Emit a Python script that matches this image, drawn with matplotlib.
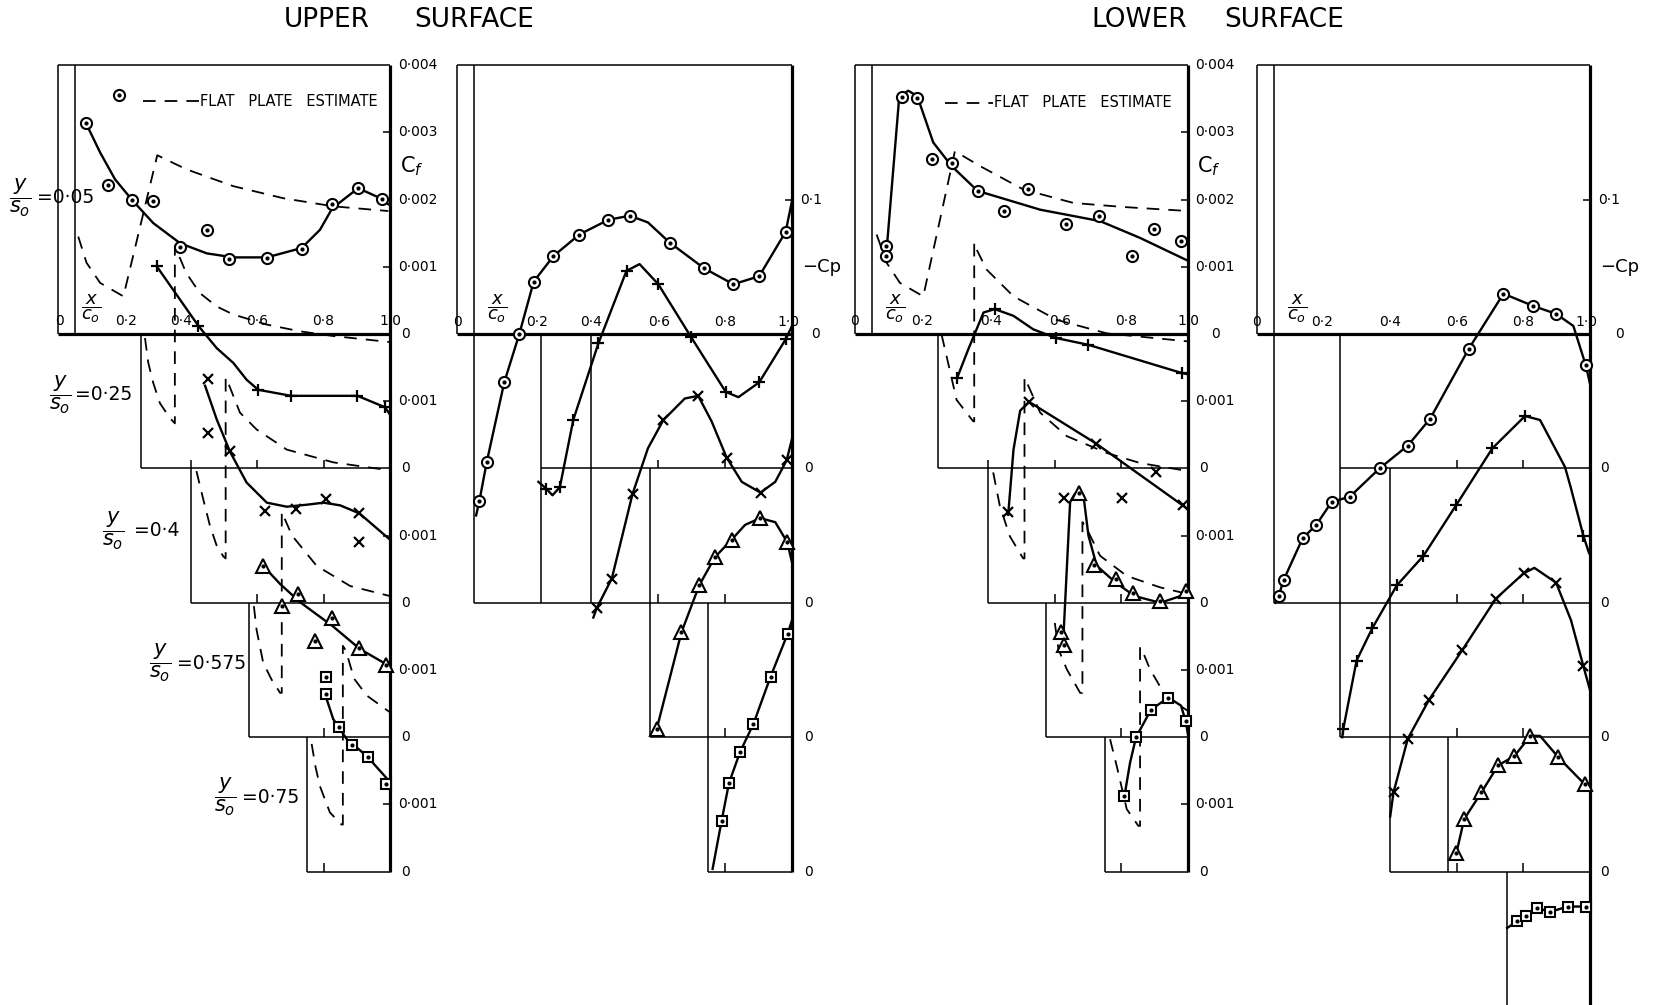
"""
Cf and -Cp distributions on the upper and lower surface of a swept wing,
five spanwise stations y/s0, each box dropped one step below the last.
Values read off the original figure.
"""
import numpy as np
import matplotlib
matplotlib.use("Agg")
import matplotlib.pyplot as plt

W, H = 1665, 1005
plt.rcParams["font.family"] = ["DejaVu Sans"]
plt.rcParams["mathtext.fontset"] = "dejavusans"

STATIONS = [0.05, 0.25, 0.4, 0.575, 0.75]
STN_TXT = ["0·05", "0·25", "0·4", "0·575", "0·75"]
KINDS = ["o", "+", "x", "^", "s"]
CF_SHIFT = 2.0    # Cf in units of 0.001, each station 0.002 lower
CP_SHIFT = 0.1    # -Cp, each station 0.1 lower

# ---------------- upper surface, Cf*1000 (x/c0, Cf) ----------------
ucf1_pts = ([0.084, 0.150, 0.184, 0.224, 0.285, 0.368, 0.448, 0.514, 0.629, 0.734, 0.826, 0.904, 0.976],
            [3.14, 2.21, 3.55, 1.99, 1.98, 1.29, 1.55, 1.12, 1.13, 1.27, 1.93, 2.17, 2.01])
ucf1_crv = ([0.084, 0.127, 0.172, 0.224, 0.287, 0.368, 0.448, 0.528, 0.629, 0.734, 0.789, 0.826, 0.904, 0.976, 0.995],
            [3.14, 2.70, 2.30, 1.99, 1.65, 1.35, 1.20, 1.14, 1.14, 1.28, 1.55, 1.87, 2.17, 2.01, 1.93])
ucf1_fp = ([0.061, 0.086, 0.127, 0.197, 0.299, 0.387, 0.528, 0.679, 0.829, 0.995],
           [1.45, 1.06, 0.76, 0.56, 2.66, 2.45, 2.20, 2.02, 1.90, 1.83])

ucf2_pts = ([0.297, 0.423, 0.603, 0.702, 0.902, 0.985],
            [3.01, 2.12, 1.17, 1.08, 1.08, 0.91])
ucf2_crv = ([0.297, 0.423, 0.478, 0.528, 0.568, 0.603, 0.702, 0.800, 0.902, 0.985, 1.0],
            [3.01, 2.12, 1.79, 1.57, 1.32, 1.17, 1.08, 1.08, 1.08, 0.91, 0.80])
ucf2_fp = ([0.262, 0.272, 0.287, 0.307, 0.337, 0.352, 0.352, 0.386, 0.427, 0.478, 0.528, 0.629, 0.729, 0.829, 1.0],
           [1.94, 1.57, 1.27, 0.97, 0.75, 0.67, 3.31, 2.91, 2.61, 2.41, 2.29, 2.14, 2.04, 1.97, 1.88])

ucf3_pts = ([0.453, 0.453, 0.518, 0.625, 0.717, 0.807, 0.908, 0.908],
            [3.33, 2.53, 2.26, 1.36, 1.40, 1.55, 1.33, 0.90])
ucf3_crv = ([0.443, 0.478, 0.518, 0.568, 0.629, 0.689, 0.750, 0.800, 0.850, 0.908, 1.0],
            [3.23, 2.73, 2.25, 1.79, 1.49, 1.43, 1.46, 1.49, 1.45, 1.33, 0.94])
ucf3_fp = ([0.417, 0.437, 0.458, 0.478, 0.498, 0.505, 0.505, 0.508, 0.548, 0.598, 0.689, 0.829, 1.0],
           [1.96, 1.55, 1.14, 0.85, 0.69, 0.66, 3.35, 3.33, 2.83, 2.58, 2.28, 2.09, 1.97])

ucf4_pts = ([0.618, 0.675, 0.722, 0.774, 0.824, 0.907, 0.987],
            [2.55, 1.95, 2.13, 1.43, 1.78, 1.33, 1.08])
ucf4_crv = ([0.618, 0.669, 0.729, 0.828, 0.910, 0.991, 1.0],
            [2.55, 2.28, 2.01, 1.65, 1.31, 1.08, 1.05])
ucf4_fp = ([0.590, 0.598, 0.618, 0.643, 0.669, 0.674, 0.674, 0.705, 0.779, 0.880, 1.0],
           [1.95, 1.60, 1.11, 0.86, 0.66, 0.66, 3.35, 3.00, 2.55, 2.25, 2.10])

ucf5_pts = ([0.807, 0.807, 0.845, 0.885, 0.933, 0.988],
            [2.90, 2.64, 2.15, 1.89, 1.71, 1.31])
ucf5_crv = ([0.807, 0.829, 0.870, 0.930, 0.988, 1.0],
            [2.60, 2.27, 1.97, 1.72, 1.40, 1.33])
ucf5_fp = ([0.764, 0.776, 0.789, 0.819, 0.854, 0.858, 0.858, 0.867, 0.892, 0.930, 1.0],
           [1.90, 1.55, 1.27, 0.88, 0.70, 0.70, 3.36, 3.29, 2.87, 2.62, 2.37])

# ---------------- upper surface, -Cp ----------------
ucp1_pts = ([0.067, 0.089, 0.141, 0.186, 0.229, 0.288, 0.365, 0.452, 0.516, 0.635, 0.737, 0.825, 0.902, 0.981],
            [-0.124, -0.095, -0.036, 0.0, 0.039, 0.058, 0.074, 0.085, 0.088, 0.068, 0.049, 0.037, 0.043, 0.076])
ucp1_crv = ([0.057, 0.067, 0.089, 0.141, 0.186, 0.229, 0.288, 0.365, 0.452, 0.516, 0.570, 0.635, 0.737, 0.825, 0.902, 0.981, 1.0],
            [-0.135, -0.124, -0.095, -0.036, 0.0, 0.039, 0.058, 0.074, 0.085, 0.088, 0.083, 0.068, 0.049, 0.037, 0.043, 0.076, 0.099])

ucp2_pts = ([0.266, 0.307, 0.347, 0.422, 0.506, 0.601, 0.698, 0.802, 0.902, 0.981],
            [-0.015, -0.014, 0.036, 0.093, 0.147, 0.137, 0.098, 0.057, 0.064, 0.096])
ucp2_crv = ([0.243, 0.266, 0.285, 0.307, 0.347, 0.422, 0.506, 0.545, 0.601, 0.698, 0.802, 0.840, 0.902, 0.981, 1.0],
            [-0.010, -0.015, -0.020, -0.014, 0.036, 0.093, 0.147, 0.152, 0.137, 0.098, 0.057, 0.053, 0.064, 0.096, 0.106])

ucp3_pts = ([0.417, 0.462, 0.524, 0.616, 0.720, 0.805, 0.906, 0.984],
            [-0.004, 0.018, 0.081, 0.136, 0.154, 0.108, 0.082, 0.106])
ucp3_crv = ([0.407, 0.417, 0.462, 0.524, 0.570, 0.616, 0.680, 0.720, 0.760, 0.805, 0.850, 0.906, 0.950, 0.984, 1.0],
            [-0.011, -0.004, 0.018, 0.081, 0.115, 0.136, 0.152, 0.154, 0.135, 0.108, 0.090, 0.082, 0.090, 0.106, 0.122])

ucp4_pts = ([0.596, 0.670, 0.723, 0.770, 0.820, 0.905, 0.986],
            [0.006, 0.078, 0.113, 0.134, 0.147, 0.163, 0.145])
ucp4_crv = ([0.585, 0.596, 0.670, 0.723, 0.770, 0.820, 0.860, 0.905, 0.950, 0.986, 1.0],
            [0.002, 0.006, 0.078, 0.113, 0.134, 0.147, 0.158, 0.163, 0.160, 0.145, 0.130])

ucp5_pts = ([0.790, 0.812, 0.845, 0.885, 0.936, 0.987],
            [0.038, 0.066, 0.089, 0.110, 0.145, 0.177])
ucp5_crv = ([0.763, 0.790, 0.812, 0.845, 0.885, 0.936, 0.987, 1.0],
            [0.002, 0.038, 0.066, 0.089, 0.110, 0.145, 0.177, 0.187])

# ---------------- lower surface, Cf*1000 ----------------
lcf1_pts = ([0.093, 0.093, 0.140, 0.185, 0.230, 0.290, 0.368, 0.446, 0.521, 0.634, 0.734, 0.831, 0.899, 0.980],
            [1.31, 1.16, 3.53, 3.51, 2.61, 2.55, 2.13, 1.83, 2.16, 1.64, 1.75, 1.16, 1.56, 1.39])
lcf1_crv = ([0.095, 0.133, 0.160, 0.187, 0.235, 0.290, 0.368, 0.556, 0.736, 0.856, 1.0],
            [1.25, 3.54, 3.62, 3.54, 2.85, 2.50, 2.13, 1.85, 1.68, 1.43, 1.09])
lcf1_fp = ([0.065, 0.095, 0.135, 0.205, 0.300, 0.375, 0.506, 0.656, 0.806, 1.0],
           [1.48, 1.06, 0.76, 0.56, 2.72, 2.50, 2.15, 1.95, 1.89, 1.83])

lcf2_pts = ([0.307, 0.420, 0.604, 0.700, 0.981],
            [1.35, 2.37, 1.94, 1.84, 1.42])
lcf2_crv = ([0.307, 0.340, 0.386, 0.420, 0.476, 0.535, 0.604, 0.700, 0.981, 1.0],
            [1.35, 1.77, 2.32, 2.37, 2.27, 2.07, 1.94, 1.84, 1.42, 1.40])
lcf2_fp = ([0.260, 0.275, 0.305, 0.355, 0.358, 0.358, 0.360, 0.395, 0.476, 0.606, 0.756, 1.0],
           [1.99, 1.67, 1.02, 0.70, 0.70, 3.36, 3.31, 2.96, 2.56, 2.21, 2.01, 1.89])

lcf3_pts = ([0.460, 0.523, 0.628, 0.724, 0.802, 0.904, 0.984],
            [1.35, 2.99, 1.56, 2.37, 1.56, 1.94, 1.45])
lcf3_crv = ([0.460, 0.476, 0.496, 0.523, 0.724, 0.984, 1.0],
            [1.31, 2.28, 2.86, 2.99, 2.37, 1.45, 1.39])
lcf3_fp = ([0.415, 0.435, 0.465, 0.505, 0.509, 0.509, 0.516, 0.556, 0.636, 0.756, 0.856, 1.0],
           [1.94, 1.44, 0.99, 0.66, 0.66, 3.35, 3.28, 2.83, 2.48, 2.23, 2.08, 1.96])

lcf4_pts = ([0.618, 0.627, 0.673, 0.719, 0.783, 0.834, 0.917, 0.995],
            [1.56, 1.37, 3.64, 2.56, 2.35, 2.14, 2.02, 2.18])
lcf4_crv = ([0.625, 0.646, 0.660, 0.673, 0.686, 0.701, 0.726, 0.783, 0.840, 0.917, 0.995],
            [1.40, 3.50, 3.62, 3.65, 3.60, 3.00, 2.55, 2.30, 2.10, 2.00, 2.13])
lcf4_fp = ([0.600, 0.611, 0.636, 0.676, 0.683, 0.683, 0.696, 0.736, 0.816, 0.916, 1.0],
           [1.70, 1.31, 1.01, 0.66, 0.66, 3.20, 3.10, 2.70, 2.40, 2.23, 2.13])

lcf5_pts = ([0.809, 0.844, 0.889, 0.941, 0.993],
            [1.12, 2.00, 2.41, 2.59, 2.24])
lcf5_crv = ([0.809, 0.826, 0.844, 0.889, 0.941, 0.979, 0.993, 1.0],
            [1.12, 1.62, 2.00, 2.41, 2.59, 2.47, 2.24, 2.04])
lcf5_fp = ([0.766, 0.786, 0.816, 0.851, 0.856, 0.856, 0.861, 0.886, 0.926, 0.976, 1.0],
           [1.97, 1.57, 0.93, 0.68, 0.68, 3.34, 3.31, 3.01, 2.67, 2.47, 2.39])

# ---------------- lower surface, -Cp ----------------
lcp1_pts = ([0.065, 0.080, 0.137, 0.178, 0.224, 0.279, 0.368, 0.453, 0.520, 0.636, 0.740, 0.828, 0.898, 0.987],
            [-0.195, -0.183, -0.152, -0.142, -0.125, -0.121, -0.100, -0.083, -0.063, -0.011, 0.030, 0.021, 0.015, -0.023])
lcp1_crv = ([0.055, 0.065, 0.080, 0.137, 0.178, 0.224, 0.279, 0.368, 0.453, 0.520, 0.636, 0.740, 0.828, 0.898, 0.950, 0.987, 1.0],
            [-0.200, -0.195, -0.183, -0.152, -0.142, -0.125, -0.121, -0.100, -0.083, -0.063, -0.011, 0.030, 0.021, 0.015, 0.006, -0.023, -0.037])

lcp2_pts = ([0.259, 0.299, 0.346, 0.420, 0.500, 0.599, 0.707, 0.805, 0.980],
            [-0.194, -0.143, -0.119, -0.087, -0.065, -0.027, 0.015, 0.039, -0.050])
lcp2_crv = ([0.256, 0.259, 0.299, 0.346, 0.420, 0.500, 0.599, 0.707, 0.805, 0.850, 0.925, 0.942, 0.980, 0.997],
            [-0.200, -0.194, -0.143, -0.119, -0.087, -0.065, -0.027, 0.015, 0.039, 0.036, 0.001, -0.014, -0.050, -0.063])

lcp3_pts = ([0.410, 0.453, 0.517, 0.617, 0.717, 0.801, 0.898, 0.980],
            [-0.141, -0.101, -0.072, -0.035, 0.003, 0.022, 0.015, -0.047])
lcp3_crv = ([0.400, 0.410, 0.453, 0.517, 0.617, 0.717, 0.801, 0.833, 0.898, 0.943, 0.980, 1.0],
            [-0.159, -0.141, -0.101, -0.072, -0.035, 0.003, 0.022, 0.026, 0.015, -0.013, -0.047, -0.065])

lcp4_pts = ([0.599, 0.622, 0.674, 0.724, 0.773, 0.821, 0.905, 0.984],
            [-0.086, -0.061, -0.041, -0.021, -0.014, 0.001, -0.015, -0.035])
lcp4_crv = ([0.599, 0.622, 0.674, 0.724, 0.773, 0.821, 0.850, 0.905, 0.984, 1.0],
            [-0.086, -0.061, -0.041, -0.021, -0.014, 0.001, 0.001, -0.015, -0.035, -0.040])

lcp5_pts = ([0.781, 0.808, 0.841, 0.880, 0.933, 0.987],
            [-0.037, -0.033, -0.027, -0.030, -0.026, -0.026])
lcp5_crv = ([0.751, 0.781, 0.808, 0.841, 0.880, 0.933, 0.987, 1.0],
            [-0.042, -0.037, -0.033, -0.027, -0.030, -0.026, -0.026, -0.025])

UCF = [(ucf1_pts, ucf1_crv, ucf1_fp), (ucf2_pts, ucf2_crv, ucf2_fp), (ucf3_pts, ucf3_crv, ucf3_fp),
       (ucf4_pts, ucf4_crv, ucf4_fp), (ucf5_pts, ucf5_crv, ucf5_fp)]
LCF = [(lcf1_pts, lcf1_crv, lcf1_fp), (lcf2_pts, lcf2_crv, lcf2_fp), (lcf3_pts, lcf3_crv, lcf3_fp),
       (lcf4_pts, lcf4_crv, lcf4_fp), (lcf5_pts, lcf5_crv, lcf5_fp)]
UCP = [(ucp1_pts, ucp1_crv, None), (ucp2_pts, ucp2_crv, None), (ucp3_pts, ucp3_crv, None),
       (ucp4_pts, ucp4_crv, None), (ucp5_pts, ucp5_crv, None)]
LCP = [(lcp1_pts, lcp1_crv, None), (lcp2_pts, lcp2_crv, None), (lcp3_pts, lcp3_crv, None),
       (lcp4_pts, lcp4_crv, None), (lcp5_pts, lcp5_crv, None)]

XT_TXT = ["0", "0·2", "0·4", "0·6", "0·8", "1·0"]

fig = plt.figure(figsize=(W / 100, H / 100), dpi=100)
fig.patch.set_facecolor("white")

THIN = dict(color="k", lw=1.1, zorder=1, solid_capstyle="butt")
THICK = dict(color="k", lw=2.3, zorder=1, solid_capstyle="butt")
TXT = dict(fontsize=10, color="k", zorder=6)
YS = r"$\dfrac{y}{s_o}$"


def panel(x0, sx, z0, sy, left, right, top=0, bottom=H):
    # axes whose data coords land on the pixel grid of the scan
    ax = fig.add_axes([left / W, 1 - bottom / H, (right - left) / W, (bottom - top) / H])
    ax.set_xlim((left - x0) / sx, (right - x0) / sx)
    ax.set_ylim((z0 - bottom) / sy, (z0 - top) / sy)
    ax.axis("off")
    return ax


def station(ax, i, shift, pts, crv, fp, kind):
    off = -i * shift
    if fp is not None:
        ax.plot(fp[0], np.add(fp[1], off), color="k", lw=1.3, dashes=(7, 5), zorder=2)
    ax.plot(crv[0], np.add(crv[1], off), color="k", lw=1.7, zorder=3, solid_joinstyle="round")
    y = np.add(pts[1], off)
    if kind in ("o", "^", "s"):
        ms = {"o": 8, "^": 9.5, "s": 7}[kind]
        ax.plot(pts[0], y, ls="none", marker=kind, ms=ms, mfc="white", mec="k", mew=1.5, zorder=4)
        ax.plot(pts[0], y, ls="none", marker="o", ms=2, color="k", zorder=5)
    else:
        ax.plot(pts[0], y, ls="none", marker=kind, ms=8 if kind == "+" else 6.5,
                color="k", mew=1.6, zorder=4)


def top_box_labels(ax, xs, dy_num, dy_frac, xfrac):
    for x, t in zip(xs, XT_TXT):
        ax.text(x, dy_num, t, ha="center", va="center", **TXT)
    ax.text(xfrac, dy_frac, r"$\dfrac{x}{c_o}$", ha="center", va="center", fontsize=13, zorder=6)


def cf_frame(ax):
    ax.plot([0, 0], [0, 4], **THIN)
    ax.plot([0.05, 0.05], [0, 4], **THIN)
    ax.plot([0, 1], [4, 4], **THIN)
    ax.plot([0, 1], [0, 0], **THICK)
    ax.plot([1, 1], [4, -4 * CF_SHIFT], **THICK)
    for yt in (1, 2, 3):
        ax.plot([0.978, 1], [yt, yt], **THIN)
    for i, le in enumerate(STATIONS[1:], start=1):
        z = -i * CF_SHIFT
        ax.plot([le, le], [z + CF_SHIFT, z], **THIN)
        ax.plot([le, 1], [z, z], **THIN)
        ax.plot([0.978, 1], [z + 1, z + 1], **THIN)
        for xt in (0.4, 0.6, 0.8):
            if xt > le + 0.03:
                ax.plot([xt, xt], [z, z + 0.13], **THIN)


def cf_right_labels(ax, xnum, xzero_top, xzero):
    for yt, t in ((4, "0·004"), (3, "0·003"), (2, "0·002"), (1, "0·001")):
        ax.text(xnum, yt, t, ha="left", va="center", **TXT)
    ax.text(xnum + 0.005, 2.5, "C$_f$", ha="left", va="center", fontsize=15, zorder=6)
    ax.text(xzero_top, 0, "0", ha="center", va="center", **TXT)
    for i in range(1, 5):
        z = -i * CF_SHIFT
        ax.text(xzero, z, "0", ha="center", va="center", **TXT)
        ax.text(xnum, z + 1, "0·001", ha="left", va="center", **TXT)


def cp_frame(ax, verts, hors, bottom):
    ax.plot([0, 1], [0, 0], **THICK)
    ax.plot([1, 1], [0.2, bottom], **THICK)
    ax.plot([0.978, 1], [0.1, 0.1], **THIN)
    for x, y0, y1 in verts:
        ax.plot([x, x], [y0, y1], **THIN)
    for y, x0, x1 in hors:
        ax.plot([x0, x1], [y, y], **THIN)
        if y < 0:
            for xt in (0.6, 0.8):
                if xt > x0 + 0.03:
                    ax.plot([xt, xt], [y, y + 0.0065], **THIN)


def cp_right_labels(ax, xnum, xzero_top, xzero):
    ax.text(xnum, 0.1, "0·1", ha="left", va="center", **TXT)
    ax.text(xnum + 0.005, 0.05, "−Cp", ha="left", va="center", fontsize=13, zorder=6)
    ax.text(xzero_top, 0, "0", ha="center", va="center", **TXT)
    for i in range(1, 5):
        ax.text(xzero, -i * CP_SHIFT, "0", ha="center", va="center", **TXT)


def legend_fp(ax, x0, x1, y):
    ax.plot([x0, x1], [y, y], color="k", lw=1.3, dashes=(7, 5), zorder=2)
    ax.text(x1 + 0.004, y, "FLAT   PLATE   ESTIMATE", ha="left", va="center", fontsize=10.5, zorder=6)


# ---------------- upper surface, Cf ----------------
ax = panel(58, 332, 334, 67.2, 0, 440)
cf_frame(ax)
for i, (pts, crv, fp) in enumerate(UCF):
    station(ax, i, CF_SHIFT, pts, crv, fp, KINDS[i])
legend_fp(ax, 0.256, 0.425, 3.46)
top_box_labels(ax, [0.006, 0.205, 0.37, 0.60, 0.80, 1.0], 0.2, 0.38, 0.10)
cf_right_labels(ax, 1.024, 1.047, 1.047)
lab_pos = [(-0.114, 2.03, -0.062), (0.007, -0.90, 0.052), (0.166, -2.93, 0.229),
           (0.309, -4.90, 0.357), (0.505, -6.89, 0.553)]
for (xf, yf, xt), t in zip(lab_pos, STN_TXT):
    ax.text(xf, yf, YS, ha="center", va="center", fontsize=15, zorder=6)
    ax.text(xt, yf, "=" + t, ha="left", va="center", fontsize=13.5, zorder=6)

# ---------------- upper surface, -Cp ----------------
ax = panel(457, 335, 334, 1344, 425, 850)
cp_frame(ax,
         [(0, 0, 0.2), (0.05, 0.2, -0.2), (0.25, 0, -0.2), (0.4, 0, -0.2), (0.575, -0.1, -0.3), (0.75, -0.2, -0.4)],
         [(0.2, 0, 1), (-0.1, 0.25, 1), (-0.2, 0.05, 1), (-0.3, 0.575, 1), (-0.4, 0.75, 1)],
         -0.4)
for i, (pts, crv, fp) in enumerate(UCP):
    station(ax, i, CP_SHIFT, pts, crv, fp, KINDS[i])
top_box_labels(ax, [0.0, 0.24, 0.40, 0.603, 0.80, 0.99], 0.009, 0.019, 0.12)
cp_right_labels(ax, 1.024, 1.07, 1.05)

# ---------------- lower surface, Cf ----------------
ax = panel(855, 333, 334, 67.2, 840, 1245)
cf_frame(ax)
for i, (pts, crv, fp) in enumerate(LCF):
    station(ax, i, CF_SHIFT, pts, crv, fp, KINDS[i])
legend_fp(ax, 0.27, 0.414, 3.44)
top_box_labels(ax, [0.0, 0.20, 0.41, 0.615, 0.815, 1.0], 0.2, 0.38, 0.12)
cf_right_labels(ax, 1.021, 1.084, 1.048)

# ---------------- lower surface, -Cp ----------------
ax = panel(1257, 333, 334, 1344, 1240, 1665)
cp_frame(ax,
         [(0, 0, 0.2), (0.05, 0.2, -0.2), (0.25, 0, -0.3), (0.4, -0.1, -0.4), (0.575, -0.3, -0.4), (0.75, -0.4, -0.6)],
         [(0.2, 0, 1), (-0.1, 0.25, 1), (-0.2, 0.05, 1), (-0.3, 0.25, 1), (-0.4, 0.4, 1)],
         -0.6)
for i, (pts, crv, fp) in enumerate(LCP):
    station(ax, i, CP_SHIFT, pts, crv, fp, KINDS[i])
top_box_labels(ax, [0.0, 0.195, 0.40, 0.60, 0.80, 0.99], 0.009, 0.019, 0.12)
cp_right_labels(ax, 1.024, 1.09, 1.043)

# titles
for x, t in ((327, "UPPER"), (474, "SURFACE"), (1139, "LOWER"), (1284, "SURFACE")):
    fig.text(x / W, 1 - 20 / H, t, ha="center", va="center", fontsize=19)

fig.savefig("out.png", dpi=100, facecolor="white")
